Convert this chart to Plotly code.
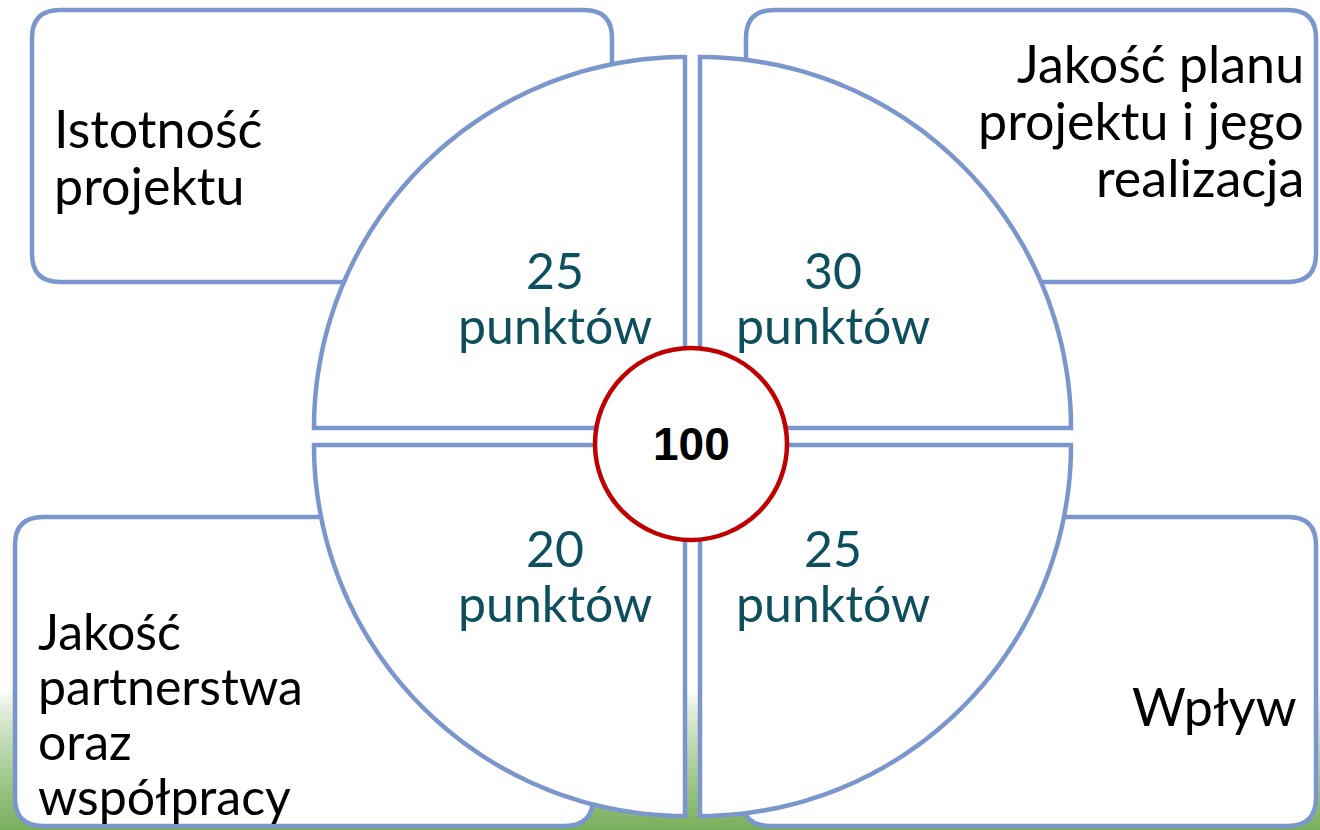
import numpy as np
import plotly.graph_objects as go

# ---- data ----
categories = ["Istotność projektu", "Jakość planu projektu i jego realizacja",
              "Jakość partnerstwa oraz współpracy", "Wpływ"]
category_lines = [["Istotność", "projektu"],
                  ["Jakość planu", "projektu i jego", "realizacja"],
                  ["Jakość", "partnerstwa", "oraz", "współpracy"],
                  ["Wpływ"]]
points = [25, 30, 20, 25]
points_unit = "punktów"
total = 100

# ---- styling / layout ----
W, H = 1320, 830
BLUE = "#7B96CD"
RED = "#C00000"
TEAL = "#0D4F5C"
GREEN = (118, 174, 90)
LW = 4.5

shapes = []

# green slide background strip at the bottom (vertical gradient)
g0, g1, step = 688, 830, 4
for yy in range(g0, g1, step):
    t = (yy - g0) / (g1 - g0)
    t = t ** 0.8
    c = tuple(int(round(255 + (GREEN[i] - 255) * t)) for i in range(3))
    shapes.append(dict(type="rect", xref="x", yref="y", x0=0, x1=W, y0=yy, y1=yy + step + 0.5,
                       fillcolor="rgb(%d,%d,%d)" % c, line=dict(width=0), layer="below"))


def rounded_rect(x0, y0, x1, y1, r):
    return (f"M {x0+r},{y0} L {x1-r},{y0} Q {x1},{y0} {x1},{y0+r} "
            f"L {x1},{y1-r} Q {x1},{y1} {x1-r},{y1} L {x0+r},{y1} "
            f"Q {x0},{y1} {x0},{y1-r} L {x0},{y0+r} Q {x0},{y0} {x0+r},{y0} Z")


# rounded category boxes: (x0, y0, x1, y1)
boxes = [(32, 10, 612, 282), (746, 10, 1316, 282), (15, 517, 593, 826), (742, 517, 1316, 826)]
for (x0, y0, x1, y1) in boxes:
    shapes.append(dict(type="path", xref="x", yref="y", path=rounded_rect(x0, y0, x1, y1, 28),
                       fillcolor="white", line=dict(color=BLUE, width=LW)))

# quarter circles: corner point and angular range (pixel coords, y down)
R = 371
quads = [((685, 428), 180, 270), ((700, 428), 270, 360), ((685, 445), 90, 180), ((700, 445), 0, 90)]
for (cx, cy), a0, a1 in quads:
    ang = np.radians(np.linspace(a0, a1, 90))
    xs = cx + R * np.cos(ang)
    ys = cy + R * np.sin(ang)
    p = f"M {cx},{cy} " + " ".join(f"L {x:.1f},{y:.1f}" for x, y in zip(xs, ys)) + " Z"
    shapes.append(dict(type="path", xref="x", yref="y", path=p, fillcolor="white",
                       line=dict(color=BLUE, width=LW)))

# centre circle
ccx, ccy, cr = 691, 444, 96
shapes.append(dict(type="circle", xref="x", yref="y", x0=ccx - cr, x1=ccx + cr, y0=ccy - cr, y1=ccy + cr,
                   fillcolor="white", line=dict(color=RED, width=4.5)))

annotations = []

# category labels: anchor x, alignment, first line centre, line spacing, font size
label_pos = [(52, "left", 128, 57, 52), (1306, "right", 63, 57, 52),
             (36, "left", 631, 55, 50), (1298, "right", 706, 57, 52)]
for lines, (lx, al, ly0, dy, fs) in zip(category_lines, label_pos):
    for k, line in enumerate(lines):
        annotations.append(dict(x=lx, y=ly0 + k * dy, xref="x", yref="y", text=line, showarrow=False,
                                xanchor=al, yanchor="middle",
                                font=dict(family="Lato, 'Noto Sans', sans-serif", size=fs, color="black")))

# points in each quadrant
pt_pos = [(555, 270), (833, 270), (555, 548), (833, 548)]
PT_FONT = dict(family="Lato, 'Noto Sans', sans-serif", size=50, color=TEAL)
for v, (px, py) in zip(points, pt_pos):
    annotations.append(dict(x=px, y=py, xref="x", yref="y", text=str(v), showarrow=False,
                            xanchor="center", yanchor="middle", font=PT_FONT))
    annotations.append(dict(x=px, y=py + 55, xref="x", yref="y", text=points_unit, showarrow=False,
                            xanchor="center", yanchor="middle", font=PT_FONT))

annotations.append(dict(x=ccx, y=ccy, xref="x", yref="y", text=f"<b>{total}</b>", showarrow=False,
                        xanchor="center", yanchor="middle",
                        font=dict(family="'Liberation Sans', Arial, sans-serif", size=46, color="black")))

fig = go.Figure()
fig.update_layout(
    width=W, height=H, autosize=False,
    margin=dict(l=0, r=0, t=0, b=0, pad=0),
    paper_bgcolor="white", plot_bgcolor="white",
    xaxis=dict(range=[0, W], visible=False, fixedrange=True),
    yaxis=dict(range=[H, 0], visible=False, fixedrange=True),
    shapes=shapes, annotations=annotations, showlegend=False,
)
fig.write_html("out.html", config={"displayModeBar": False},
               post_script="document.body.style.margin='0';document.body.style.overflow='hidden';")
